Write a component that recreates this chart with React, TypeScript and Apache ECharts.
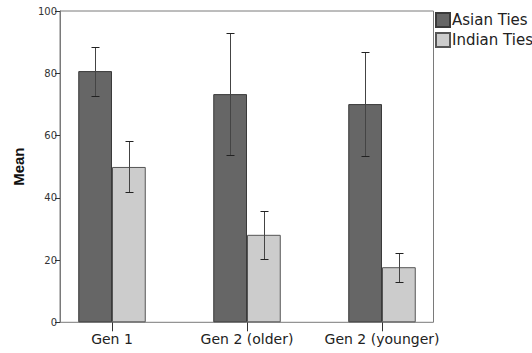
import React, { useEffect, useRef } from "react";
import * as echarts from "echarts";

const categories = ["Gen 1", "Gen 2 (older)", "Gen 2 (younger)"];
const asianMean = [80.7, 73.3, 70.1];
const asianLow = [72.8, 53.7, 53.5];
const asianHigh = [88.3, 92.9, 86.8];
const indianMean = [49.9, 28.1, 17.7];
const indianLow = [41.7, 20.3, 12.9];
const indianHigh = [58.1, 35.6, 22.4];
const seriesNames = ["Asian Ties", "Indian Ties"];

const FONT = "DejaVu Sans";

function errorSeries(lows: number[], highs: number[], dir: number) {
  return {
    type: "custom",
    xAxisIndex: 0,
    yAxisIndex: 0,
    z: 10,
    data: lows.map((lo, i) => [i, lo, highs[i]]),
    encode: { x: 0, y: [1, 2] },
    renderItem: (params: any, api: any) => {
      const cat = api.value(0);
      const pHi = api.coord([cat, api.value(2)]);
      const pLo = api.coord([cat, api.value(1)]);
      const band = api.size([1, 0])[0];
      const x = Math.round(pHi[0] + (dir * band) / 8) + 0.5;
      const yHi = Math.round(pHi[1]) + 0.5;
      const yLo = Math.round(pLo[1]) + 0.5;
      const cap = 4;
      const style = { stroke: "#222", lineWidth: 1 };
      return {
        type: "group",
        children: [
          { type: "line", shape: { x1: x, y1: yHi, x2: x, y2: yLo }, style: { stroke: "#444", lineWidth: 1 } },
          { type: "line", shape: { x1: x - cap, y1: yHi, x2: x + cap, y2: yHi }, style },
          { type: "line", shape: { x1: x - cap, y1: yLo, x2: x + cap, y2: yLo }, style },
        ],
      };
    },
  };
}

export default function App() {
  const ref = useRef<HTMLDivElement>(null);
  useEffect(() => {
    if (!ref.current) return;
    const chart = echarts.init(ref.current, null, { renderer: "svg" });
    const option: any = {
      animation: false,
      backgroundColor: "#ffffff",
      legend: {
        orient: "vertical",
        left: 435,
        top: 12,
        padding: 0,
        itemWidth: 14,
        itemHeight: 14,
        itemGap: 4,
        icon: "rect",
        data: seriesNames,
        textStyle: { fontFamily: FONT, fontSize: 15, color: "#222", padding: [0, 0, 0, -3] },
      },
      grid: [
        { left: 44.5, width: 405, top: 11, height: 311.3 },
        {
          left: 60,
          width: 373.5,
          top: 11,
          height: 311.3,
          show: true,
          borderColor: "#7a7a7a",
          borderWidth: 1,
          backgroundColor: "transparent",
        },
      ],
      xAxis: [
        {
          type: "category",
          gridIndex: 0,
          data: categories,
          axisLine: { show: false },
          axisTick: { show: true, alignWithLabel: true, length: 9, lineStyle: { color: "#333" } },
          axisLabel: { fontFamily: FONT, fontSize: 14, color: "#222", margin: 10, interval: 0 },
          splitLine: { show: false },
        },
        { type: "value", gridIndex: 1, show: false },
      ],
      yAxis: [
        { type: "value", gridIndex: 0, min: 0, max: 100, show: false },
        {
          type: "value",
          gridIndex: 1,
          min: 0,
          max: 100,
          interval: 20,
          axisLine: { show: true, lineStyle: { color: "#7a7a7a" } },
          axisTick: { show: true, length: 5, lineStyle: { color: "#333" } },
          axisLabel: { fontFamily: FONT, fontSize: 10, color: "#333", margin: 3 },
          splitLine: { show: false },
          name: "Mean",
          nameLocation: "middle",
          nameGap: 34,
          nameTextStyle: { fontFamily: "Liberation Sans", fontWeight: "bold", fontSize: 15, color: "#111" },
        },
      ],
      series: [
        {
          name: seriesNames[0],
          type: "bar",
          xAxisIndex: 0,
          yAxisIndex: 0,
          data: asianMean,
          barGap: "0%",
          barCategoryGap: "50%",
          itemStyle: { color: "#666666", borderColor: "#3a3a3a", borderWidth: 1 },
        },
        {
          name: seriesNames[1],
          type: "bar",
          xAxisIndex: 0,
          yAxisIndex: 0,
          data: indianMean,
          barGap: "0%",
          barCategoryGap: "50%",
          itemStyle: { color: "#cccccc", borderColor: "#555555", borderWidth: 1 },
        },
        errorSeries(asianLow, asianHigh, -1),
        errorSeries(indianLow, indianHigh, 1),
      ],
    };
    chart.setOption(option);
    return () => chart.dispose();
  }, []);
  return (
    <div
      ref={ref}
      style={{ position: "absolute", left: 0, top: 0, width: 532, height: 353 }}
    />
  );
}
